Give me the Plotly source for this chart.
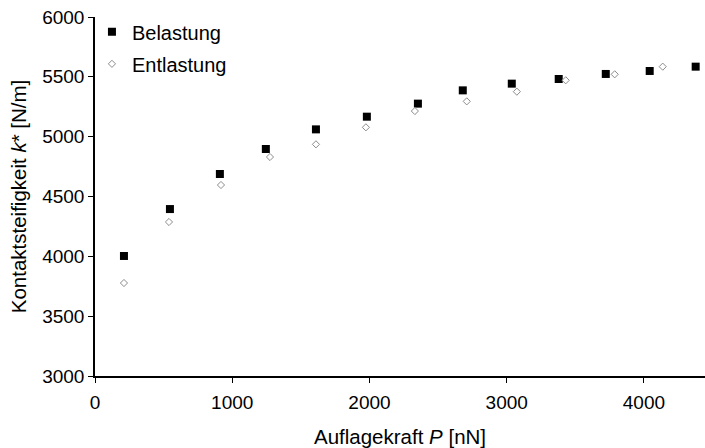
import plotly.graph_objects as go

# Belastung (loading)
bel_P = [211, 546, 910, 1245, 1610, 1981, 2353, 2680, 3037, 3379, 3722, 4042, 4377]
bel_k = [4003, 4395, 4688, 4897, 5061, 5167, 5276, 5387, 5443, 5482, 5524, 5549, 5585]

# Entlastung (unloading)
ent_P = [211, 539, 918, 1275, 1610, 1974, 2331, 2709, 3074, 3430, 3787, 4137]
ent_k = [3777, 4287, 4596, 4830, 4936, 5078, 5214, 5295, 5376, 5471, 5521, 5585]

x_ticks = [0, 1000, 2000, 3000, 4000]
y_ticks = [3000, 3500, 4000, 4500, 5000, 5500, 6000]

FONT = "Liberation Sans, Arial, sans-serif"

fig = go.Figure()
fig.add_trace(go.Scatter(
    x=bel_P, y=bel_k, mode="markers", name="Belastung", legendgroup="a",
    marker=dict(symbol="square", size=8, color="#000000", line=dict(width=0)),
))
fig.add_trace(go.Scatter(
    x=ent_P, y=ent_k, mode="markers", name="Entlastung", legendgroup="b",
    marker=dict(symbol="diamond", size=5.5, color="#ffffff",
                line=dict(width=1, color="#8c8c8c")),
))

fig.update_layout(
    width=705, height=448,
    margin=dict(l=95, r=0, t=17, b=72),
    paper_bgcolor="white", plot_bgcolor="white",
    font=dict(family=FONT, color="#000000", size=19),
    showlegend=True,
    legend=dict(x=-0.005, y=1.013, xanchor="left", yanchor="top",
                bgcolor="rgba(0,0,0,0)", font=dict(size=20),
                tracegroupgap=3, itemwidth=30),
    xaxis=dict(
        range=[0, 4445], tickvals=x_ticks, ticktext=[str(v) for v in x_ticks],
        showline=True, linecolor="#000000", linewidth=2,
        ticks="outside", ticklen=5, tickwidth=1, tickcolor="#000000",
        showgrid=False, zeroline=False, ticklabelstandoff=3,
        title=dict(text="Auflagekraft <i>P</i> [nN]", font=dict(size=20.5), standoff=18),
        tickfont=dict(size=19),
    ),
    yaxis=dict(
        range=[3000, 6000], tickvals=y_ticks, ticktext=[str(v) for v in y_ticks],
        showline=True, linecolor="#000000", linewidth=1.5,
        ticks="outside", ticklen=5, tickwidth=1, tickcolor="#000000",
        showgrid=False, zeroline=False,
        title=dict(text="Kontaktsteifigkeit <i>k</i>* [N/m]", font=dict(size=20.5), standoff=10),
        tickfont=dict(size=19),
    ),
)

fig.write_html("out.html")
